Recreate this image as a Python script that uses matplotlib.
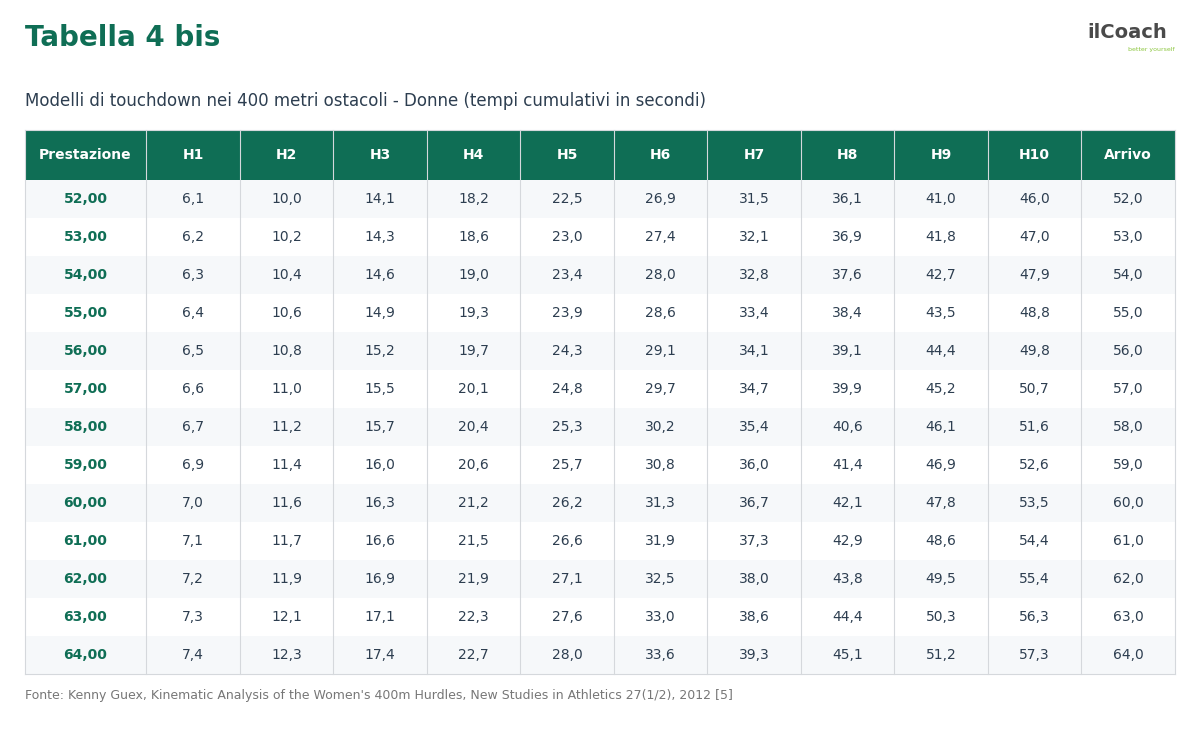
import matplotlib.pyplot as plt
from matplotlib.patches import Rectangle

plt.rcParams['font.family'] = ['DejaVu Sans']

cols = ['Prestazione', 'H1', 'H2', 'H3', 'H4', 'H5', 'H6', 'H7', 'H8', 'H9', 'H10', 'Arrivo']
data = [
    ['52,00', '6,1', '10,0', '14,1', '18,2', '22,5', '26,9', '31,5', '36,1', '41,0', '46,0', '52,0'],
    ['53,00', '6,2', '10,2', '14,3', '18,6', '23,0', '27,4', '32,1', '36,9', '41,8', '47,0', '53,0'],
    ['54,00', '6,3', '10,4', '14,6', '19,0', '23,4', '28,0', '32,8', '37,6', '42,7', '47,9', '54,0'],
    ['55,00', '6,4', '10,6', '14,9', '19,3', '23,9', '28,6', '33,4', '38,4', '43,5', '48,8', '55,0'],
    ['56,00', '6,5', '10,8', '15,2', '19,7', '24,3', '29,1', '34,1', '39,1', '44,4', '49,8', '56,0'],
    ['57,00', '6,6', '11,0', '15,5', '20,1', '24,8', '29,7', '34,7', '39,9', '45,2', '50,7', '57,0'],
    ['58,00', '6,7', '11,2', '15,7', '20,4', '25,3', '30,2', '35,4', '40,6', '46,1', '51,6', '58,0'],
    ['59,00', '6,9', '11,4', '16,0', '20,6', '25,7', '30,8', '36,0', '41,4', '46,9', '52,6', '59,0'],
    ['60,00', '7,0', '11,6', '16,3', '21,2', '26,2', '31,3', '36,7', '42,1', '47,8', '53,5', '60,0'],
    ['61,00', '7,1', '11,7', '16,6', '21,5', '26,6', '31,9', '37,3', '42,9', '48,6', '54,4', '61,0'],
    ['62,00', '7,2', '11,9', '16,9', '21,9', '27,1', '32,5', '38,0', '43,8', '49,5', '55,4', '62,0'],
    ['63,00', '7,3', '12,1', '17,1', '22,3', '27,6', '33,0', '38,6', '44,4', '50,3', '56,3', '63,0'],
    ['64,00', '7,4', '12,3', '17,4', '22,7', '28,0', '33,6', '39,3', '45,1', '51,2', '57,3', '64,0'],
]

green = '#0f6e55'
dark = '#2d3e50'
xs = [25, 146, 240, 333, 427, 520, 614, 707, 801, 894, 988, 1081, 1175]
top, head_h, row_h = 130, 50, 38

fig = plt.figure(figsize=(12, 7.44), dpi=100)
ax = fig.add_axes([0, 0, 1, 1])
ax.set_xlim(0, 1200)
ax.set_ylim(744, 0)
ax.axis('off')

# intestazione
ax.add_patch(Rectangle((xs[0], top), xs[-1] - xs[0], head_h, color=green, lw=0))
for i, c in enumerate(cols):
    ax.text((xs[i] + xs[i + 1]) / 2, top + head_h / 2, c, color='white',
            fontsize=10, fontweight='bold', ha='center', va='center')

# righe
for r, row in enumerate(data):
    y0 = top + head_h + r * row_h
    bg = '#f6f8fa' if r % 2 == 0 else 'white'
    ax.add_patch(Rectangle((xs[0], y0), xs[-1] - xs[0], row_h, color=bg, lw=0))
    for i, v in enumerate(row):
        if i == 0:
            ax.text((xs[i] + xs[i + 1]) / 2, y0 + row_h / 2, v, color=green,
                    fontsize=10, fontweight='bold', ha='center', va='center')
        else:
            ax.text((xs[i] + xs[i + 1]) / 2, y0 + row_h / 2, v, color=dark,
                    fontsize=10, ha='center', va='center')

bottom = top + head_h + len(data) * row_h
for x in xs:
    ax.plot([x, x], [top, bottom], color='#d5d8dc', lw=0.8)
ax.plot([xs[0], xs[-1]], [bottom, bottom], color='#d5d8dc', lw=0.8)
ax.plot([xs[0], xs[-1]], [top, top], color='#d5d8dc', lw=0.8)

# titoli
ax.text(25, 38, 'Tabella 4 bis', color=green, fontsize=20, fontweight='bold', va='center')
ax.text(25, 101, 'Modelli di touchdown nei 400 metri ostacoli - Donne (tempi cumulativi in secondi)',
        color=dark, fontsize=12, va='center')
ax.text(25, 695, "Fonte: Kenny Guex, Kinematic Analysis of the Women's 400m Hurdles, New Studies in Athletics 27(1/2), 2012 [5]",
        color='#777777', fontsize=9, va='center')

# logo
ax.text(1087, 33, 'ilCoach', color='#4a4a4a', fontsize=14, fontweight='bold', va='center')
ax.text(1175, 50, 'better yourself', color='#8cc63f', fontsize=4.5, ha='right', va='center')

plt.savefig('out.png', dpi=100)
